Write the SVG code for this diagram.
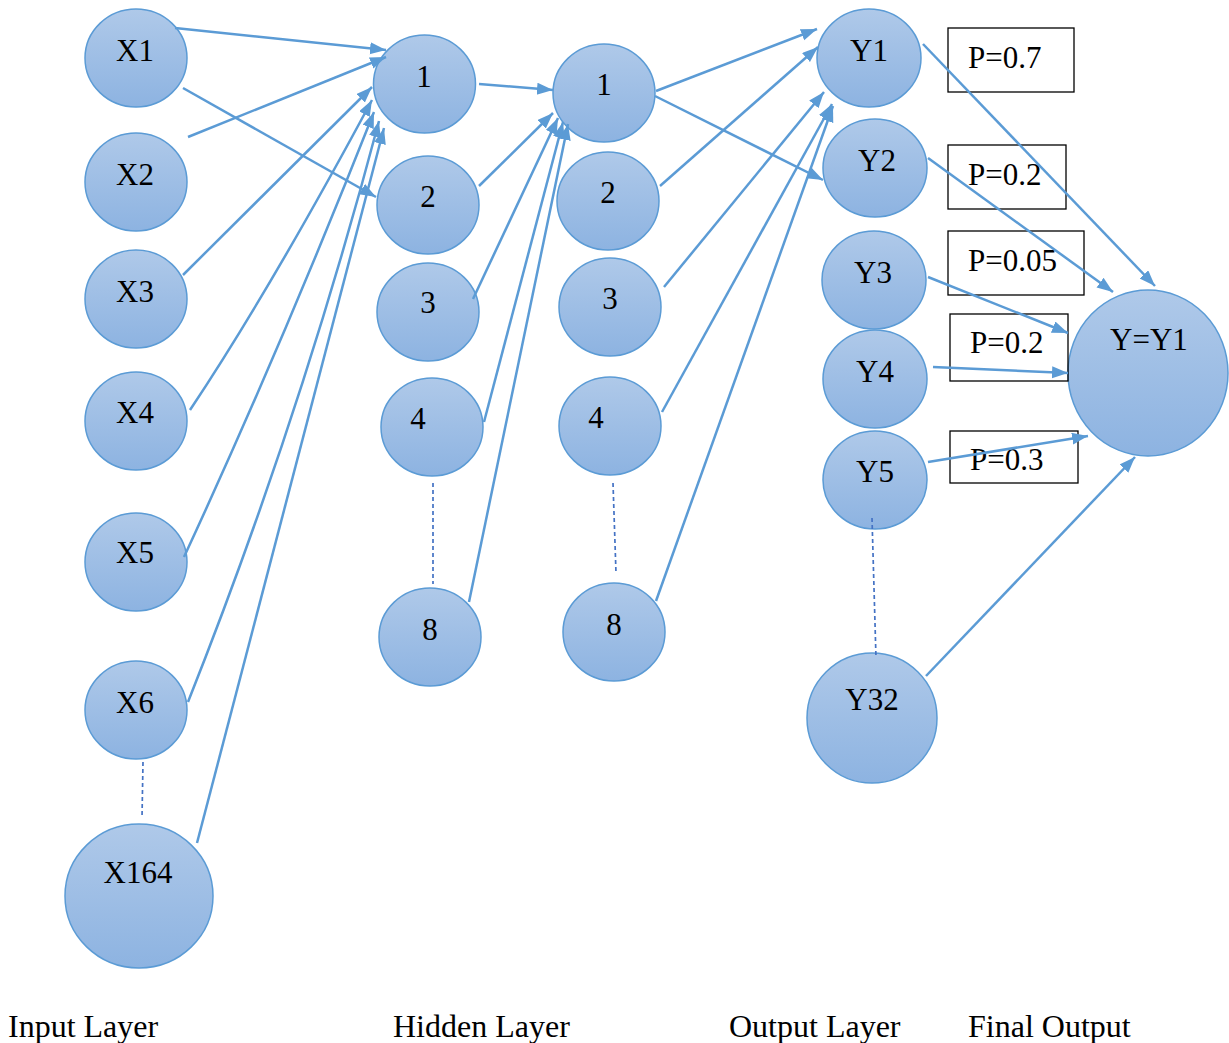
<svg xmlns="http://www.w3.org/2000/svg" width="1229" height="1043" viewBox="0 0 1229 1043">
<style>
.node{fill:url(#g);stroke:#5b9bd5;stroke-width:1.5}
.lbl{font-family:"Liberation Serif","Times New Roman",serif;font-size:31px;fill:#000;text-anchor:middle}
.cap{font-family:"Liberation Serif","Times New Roman",serif;font-size:31px;fill:#000}
.ttl{font-family:"Liberation Serif","Times New Roman",serif;font-size:32px;fill:#000}
.box{fill:none;stroke:#000;stroke-width:1.3}
.ar{stroke:#5b9bd5;stroke-width:2.5;fill:none;marker-end:url(#ah)}
.dash{stroke:#4472c4;stroke-width:1.7;fill:none;stroke-dasharray:4 3}
</style>
<defs>
<linearGradient id="g" x1="0" y1="0" x2="0" y2="1">
<stop offset="0" stop-color="#afc9e9"/>
<stop offset="1" stop-color="#8db3e1"/>
</linearGradient>
<marker id="ah" markerUnits="userSpaceOnUse" markerWidth="17" markerHeight="13" refX="16" refY="6" orient="auto">
<path d="M0,0 L16,6 L0,12 z" fill="#5b9bd5"/>
</marker>
</defs>
<rect width="1229" height="1043" fill="#fff"/>

<g id="input-layer">
<g id="X1"><ellipse class="node" cx="136" cy="58" rx="51" ry="49"/><text class="lbl" x="135" y="61">X1</text></g>
<g id="X2"><ellipse class="node" cx="136" cy="182" rx="51" ry="49"/><text class="lbl" x="135" y="185">X2</text></g>
<g id="X3"><ellipse class="node" cx="136" cy="299" rx="51" ry="49"/><text class="lbl" x="135" y="302">X3</text></g>
<g id="X4"><ellipse class="node" cx="136" cy="421" rx="51" ry="49"/><text class="lbl" x="135" y="423">X4</text></g>
<g id="X5"><ellipse class="node" cx="136" cy="562" rx="51" ry="49"/><text class="lbl" x="135" y="563">X5</text></g>
<g id="X6"><ellipse class="node" cx="136" cy="710" rx="51" ry="49"/><text class="lbl" x="135" y="713">X6</text></g>
<g id="X164"><ellipse class="node" cx="139" cy="896" rx="74" ry="72"/><text class="lbl" x="138" y="883">X164</text></g>
</g>

<g id="hidden-layer-1">
<g id="H1_1"><ellipse class="node" cx="424.5" cy="84" rx="51" ry="49"/><text class="lbl" x="424" y="87">1</text></g>
<g id="H1_2"><ellipse class="node" cx="428" cy="205" rx="51" ry="49"/><text class="lbl" x="428" y="207">2</text></g>
<g id="H1_3"><ellipse class="node" cx="428" cy="312" rx="51" ry="49"/><text class="lbl" x="428" y="313">3</text></g>
<g id="H1_4"><ellipse class="node" cx="432" cy="427" rx="51" ry="49"/><text class="lbl" x="418" y="429">4</text></g>
<g id="H1_8"><ellipse class="node" cx="430" cy="637" rx="51" ry="49"/><text class="lbl" x="430" y="640">8</text></g>
</g>

<g id="hidden-layer-2">
<g id="H2_1"><ellipse class="node" cx="604" cy="93" rx="51" ry="49"/><text class="lbl" x="604" y="95">1</text></g>
<g id="H2_2"><ellipse class="node" cx="608" cy="201" rx="51" ry="49"/><text class="lbl" x="608" y="203">2</text></g>
<g id="H2_3"><ellipse class="node" cx="610" cy="307" rx="51" ry="49"/><text class="lbl" x="610" y="309">3</text></g>
<g id="H2_4"><ellipse class="node" cx="610" cy="426" rx="51" ry="49"/><text class="lbl" x="596" y="428">4</text></g>
<g id="H2_8"><ellipse class="node" cx="614" cy="632" rx="51" ry="49"/><text class="lbl" x="614" y="635">8</text></g>
</g>

<g id="output-layer">
<g id="Y1"><ellipse class="node" cx="869" cy="58" rx="52" ry="49"/><text class="lbl" x="869" y="61">Y1</text></g>
<g id="Y2"><ellipse class="node" cx="875" cy="168" rx="52" ry="49"/><text class="lbl" x="877" y="171">Y2</text></g>
<g id="Y3"><ellipse class="node" cx="874" cy="280" rx="52" ry="49"/><text class="lbl" x="873" y="283">Y3</text></g>
<g id="Y4"><ellipse class="node" cx="875" cy="379" rx="52" ry="49"/><text class="lbl" x="875" y="382">Y4</text></g>
<g id="Y5"><ellipse class="node" cx="875" cy="480" rx="52" ry="49"/><text class="lbl" x="875" y="482">Y5</text></g>
<g id="Y32"><ellipse class="node" cx="872" cy="718" rx="65" ry="65"/><text class="lbl" x="872" y="710">Y32</text></g>
</g>

<g id="final-output">
<ellipse class="node" cx="1148" cy="373" rx="80" ry="83"/><text class="lbl" x="1149" y="350">Y=Y1</text>
</g>

<g id="probabilities">
<g id="p1"><rect class="box" x="948" y="28" width="126" height="64"/><text class="cap" x="968" y="68">P=0.7</text></g>
<g id="p2"><rect class="box" x="948" y="145" width="118" height="64"/><text class="cap" x="968" y="185">P=0.2</text></g>
<g id="p3"><rect class="box" x="948" y="231" width="136" height="64"/><text class="cap" x="968" y="271">P=0.05</text></g>
<g id="p4"><rect class="box" x="950" y="314" width="118" height="67"/><text class="cap" x="970" y="353">P=0.2</text></g>
<g id="p5"><rect class="box" x="950" y="431" width="128" height="52"/><text class="cap" x="970" y="470">P=0.3</text></g>
</g>

<g id="connectors">
<line class="ar" x1="175" y1="28" x2="386" y2="50"/>
<line class="ar" x1="188" y1="137" x2="386" y2="57"/>
<line class="ar" x1="183" y1="88" x2="376" y2="197"/>
<line class="ar" x1="183" y1="275" x2="372" y2="87"/>
<path class="ar" d="M190,410 Q270,290 372,100"/>
<path class="ar" d="M184,557 Q280,350 374,112"/>
<path class="ar" d="M188,702 Q300,420 379,121"/>
<line class="ar" x1="197" y1="843" x2="384" y2="128"/>

<line class="ar" x1="479" y1="84" x2="553" y2="90"/>
<line class="ar" x1="479" y1="186" x2="553" y2="113"/>
<line class="ar" x1="473" y1="299" x2="558" y2="118"/>
<line class="ar" x1="484" y1="422" x2="563" y2="122"/>
<line class="ar" x1="469" y1="602" x2="568" y2="124"/>

<line class="ar" x1="656" y1="91" x2="817" y2="29"/>
<line class="ar" x1="655" y1="96" x2="823" y2="180"/>
<line class="ar" x1="660" y1="186" x2="818" y2="47"/>
<line class="ar" x1="664" y1="287" x2="824" y2="92"/>
<line class="ar" x1="662" y1="412" x2="832" y2="104"/>
<line class="ar" x1="656" y1="601" x2="833" y2="106"/>

<line class="ar" x1="923" y1="44" x2="1155" y2="286"/>
<line class="ar" x1="928" y1="158" x2="1113" y2="292"/>
<line class="ar" x1="928" y1="277" x2="1068" y2="333"/>
<line class="ar" x1="933" y1="367" x2="1068" y2="373"/>
<line class="ar" x1="928" y1="462" x2="1088" y2="436"/>
<line class="ar" x1="926" y1="676" x2="1135" y2="457"/>

<line class="dash" x1="143" y1="762" x2="142" y2="818"/>
<line class="dash" x1="433" y1="483" x2="433" y2="584"/>
<line class="dash" x1="613" y1="483" x2="616" y2="573"/>
<line class="dash" x1="872" y1="518" x2="876" y2="658"/>
</g>

<g id="captions">
<text class="ttl" x="8" y="1037">Input Layer</text>
<text class="ttl" x="393" y="1037">Hidden Layer</text>
<text class="ttl" x="729" y="1037">Output Layer</text>
<text class="ttl" x="968" y="1037">Final Output</text>
</g>
</svg>
